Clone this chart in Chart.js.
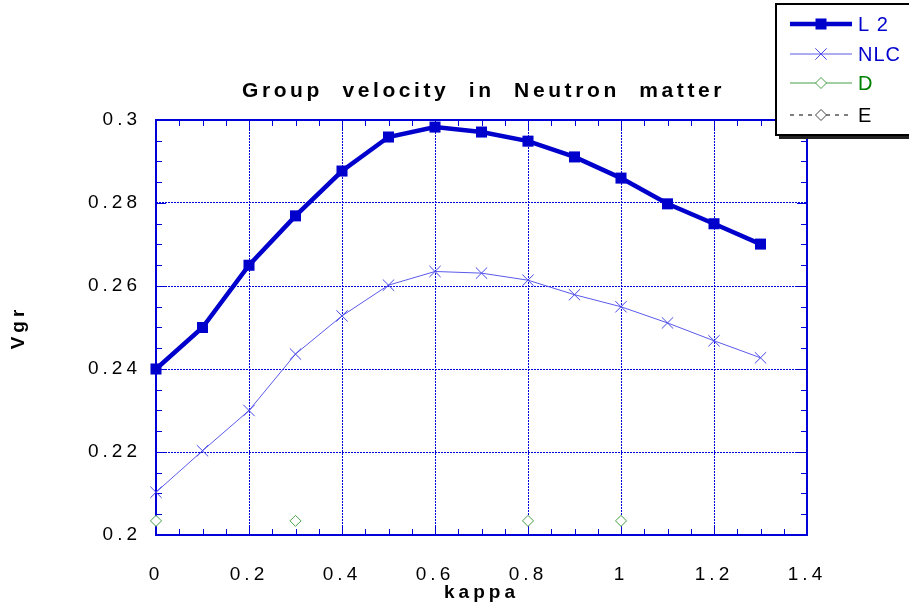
<!DOCTYPE html>
<html>
<head>
<meta charset="utf-8">
<script src="https://cdn.jsdelivr.net/npm/chart.js"></script>
<style>
  html, body { margin: 0; padding: 0; background: #fff; }
  canvas { display: block; }
</style>
</head>
<body>
<canvas id="myChart" width="909" height="607"></canvas>
<script>
// data
var kappa = [0, 0.1, 0.2, 0.3, 0.4, 0.5, 0.6, 0.7, 0.8, 0.9, 1.0, 1.1, 1.2, 1.3];
var vgrL2 = [0.2400, 0.2500, 0.2650, 0.2769, 0.2877, 0.2959, 0.2983, 0.2971, 0.2949, 0.2911, 0.2860, 0.2798, 0.2750, 0.2701];
var vgrNLC = [0.2103, 0.2203, 0.2300, 0.2436, 0.2528, 0.2602, 0.2635, 0.2631, 0.2614, 0.2579, 0.2550, 0.2511, 0.2468, 0.2427];
var kappaD = [0, 0.3, 0.8, 1.0];
var vgrD = [0.2034, 0.2034, 0.2034, 0.2034];
var kappaE = [];
var vgrE = [];

var xTicks = [0, 0.2, 0.4, 0.6, 0.8, 1, 1.2, 1.4];
var yTicks = [0.2, 0.22, 0.24, 0.26, 0.28, 0.3];
var xMinorStep = 0.05;
var yMinorStep = 0.005;

var titleText = 'Group velocity in Neutron matter';

function pts(xs, ys) {
    return xs.map(function (x, i) { return { x: x, y: ys[i] }; });
}

var blue = '#0000cc';
var gridBlue = '#0000d8';

function drawMarker(ctx, style, x, y, r, fill, stroke, lw) {
    ctx.save();
    ctx.setLineDash([]);
    ctx.lineWidth = lw;
    ctx.strokeStyle = stroke;
    ctx.fillStyle = fill;
    ctx.beginPath();
    if (style === 'rect') {
        var s = r * Math.SQRT1_2;
        ctx.rect(x - s, y - s, 2 * s, 2 * s);
        ctx.fill();
    } else if (style === 'crossRot') {
        var c = r * Math.SQRT1_2;
        ctx.moveTo(x - c, y - c); ctx.lineTo(x + c, y + c);
        ctx.moveTo(x - c, y + c); ctx.lineTo(x + c, y - c);
        ctx.stroke();
    } else if (style === 'rectRot') {
        ctx.moveTo(x, y - r); ctx.lineTo(x + r, y);
        ctx.lineTo(x, y + r); ctx.lineTo(x - r, y);
        ctx.closePath();
        ctx.fill();
        ctx.stroke();
    }
    ctx.restore();
}

// frame, minor ticks, title and the boxed legend
var decorations = {
    id: 'decorations',
    beforeDraw: function (chart) {
        chart.ctx.letterSpacing = '4px';
    },
    beforeDatasetsDraw: function (chart) {
        var ctx = chart.ctx;
        var a = chart.chartArea;
        var xs = chart.scales.x, ys = chart.scales.y;
        ctx.save();
        ctx.strokeStyle = gridBlue;
        ctx.lineWidth = 1;
        ctx.beginPath();
        var v, p;
        for (v = xs.min; v <= xs.max + 1e-9; v += xMinorStep) {
            p = Math.round(xs.getPixelForValue(v)) + 0.5;
            var major = Math.abs(v / 0.2 - Math.round(v / 0.2)) < 1e-6;
            var len = major ? 10 : 6;
            ctx.moveTo(p, a.bottom); ctx.lineTo(p, a.bottom - len);
            ctx.moveTo(p, a.top); ctx.lineTo(p, a.top + len);
        }
        for (v = ys.min; v <= ys.max + 1e-9; v += yMinorStep) {
            p = Math.round(ys.getPixelForValue(v)) + 0.5;
            var majorY = Math.abs(v / 0.02 - Math.round(v / 0.02)) < 1e-6;
            var lenY = majorY ? 10 : 6;
            ctx.moveTo(a.left, p); ctx.lineTo(a.left + lenY, p);
            ctx.moveTo(a.right, p); ctx.lineTo(a.right - lenY, p);
        }
        ctx.stroke();
        ctx.lineWidth = 2;
        ctx.strokeRect(a.left, a.top, a.right - a.left, a.bottom - a.top);
        ctx.restore();
    },
    afterDraw: function (chart) {
        var ctx = chart.ctx;
        var a = chart.chartArea;
        ctx.save();
        // title
        ctx.letterSpacing = '3.6px';
        ctx.wordSpacing = '10px';
        ctx.font = 'bold 21px "Liberation Sans", Arial, sans-serif';
        ctx.fillStyle = '#000';
        ctx.textAlign = 'center';
        ctx.textBaseline = 'middle';
        ctx.fillText(titleText, (a.left + a.right) / 2 + 2, 91);
        ctx.wordSpacing = '0px';

        // legend box with shadow
        var bx = 776, by = 4, bw = 140, bh = 131;
        ctx.fillStyle = '#222';
        ctx.fillRect(bx + 3, by + bh, bw, 4);
        ctx.fillStyle = '#fff';
        ctx.fillRect(bx, by, bw, bh);
        ctx.strokeStyle = '#000';
        ctx.lineWidth = 2;
        ctx.strokeRect(bx, by, bw, bh);

        var rows = [24, 54, 83, 115];
        var textColors = [blue, blue, '#008000', '#000'];
        ctx.letterSpacing = '1px';
        ctx.font = '20px "Liberation Sans", Arial, sans-serif';
        ctx.textAlign = 'left';
        chart.data.datasets.forEach(function (ds, i) {
            var y = rows[i];
            ctx.save();
            ctx.strokeStyle = ds.borderColor;
            ctx.lineWidth = ds.borderWidth;
            ctx.setLineDash(ds.borderDash || []);
            ctx.beginPath();
            ctx.moveTo(790, y); ctx.lineTo(852, y);
            ctx.stroke();
            ctx.restore();
            drawMarker(ctx, ds.pointStyle, 821, y, ds.pointRadius,
                ds.pointBackgroundColor, ds.pointBorderColor, ds.pointBorderWidth);
            ctx.fillStyle = textColors[i];
            ctx.fillText(i === 0 ? 'L 2' : ds.label, 858, y + 1);
        });
        ctx.restore();
        ctx.letterSpacing = '0px';
    }
};

var ctx = document.getElementById('myChart').getContext('2d');
var chart = new Chart(ctx, {
    type: 'line',
    data: {
        datasets: [
            {
                label: 'L2',
                data: pts(kappa, vgrL2),
                borderColor: blue,
                borderWidth: 4.5,
                pointStyle: 'rect',
                pointRadius: 7.8,
                pointBackgroundColor: blue,
                pointBorderColor: blue,
                pointBorderWidth: 0,
                clip: false
            },
            {
                label: 'NLC',
                data: pts(kappa, vgrNLC),
                borderColor: 'rgb(90, 90, 235)',
                borderWidth: 1,
                pointStyle: 'crossRot',
                pointRadius: 8,
                pointBackgroundColor: 'rgb(90, 90, 235)',
                pointBorderColor: 'rgb(70, 70, 230)',
                pointBorderWidth: 1,
                clip: false
            },
            {
                label: 'D',
                data: pts(kappaD, vgrD),
                showLine: false,
                borderColor: 'rgb(70, 160, 70)',
                borderWidth: 1,
                pointStyle: 'rectRot',
                pointRadius: 5.5,
                pointBackgroundColor: '#fff',
                pointBorderColor: 'rgb(70, 160, 70)',
                pointBorderWidth: 1,
                clip: false
            },
            {
                label: 'E',
                data: pts(kappaE, vgrE),
                borderColor: '#000',
                borderWidth: 1,
                borderDash: [4, 5],
                pointStyle: 'rectRot',
                pointRadius: 5.5,
                pointBackgroundColor: '#fff',
                pointBorderColor: '#444',
                pointBorderWidth: 1,
                clip: false
            }
        ]
    },
    options: {
        responsive: false,
        animation: false,
        layout: { padding: { top: 120, right: 102, left: 0, bottom: 0 } },
        plugins: {
            legend: { display: false },
            title: { display: false },
            tooltip: { enabled: false }
        },
        scales: {
            x: {
                type: 'linear',
                min: 0,
                max: 1.4,
                afterFit: function (s) { s.height = 72; },
                afterBuildTicks: function (s) { s.ticks = xTicks.map(function (v) { return { value: v }; }); },
                ticks: {
                    color: '#000',
                    padding: 28,
                    font: { family: '"Liberation Sans", Arial, sans-serif', size: 19 },
                    callback: function (v) { return String(Number(v.toFixed(2))); }
                },
                grid: { color: gridBlue, lineWidth: 1, drawTicks: false },
                border: { display: false, dash: [2, 1] },
                title: {
                    display: true,
                    text: 'kappa',
                    color: '#000',
                    padding: { top: 0, bottom: 3 },
                    font: { family: '"Liberation Sans", Arial, sans-serif', size: 19, weight: 'bold' }
                }
            },
            y: {
                type: 'linear',
                min: 0.2,
                max: 0.3,
                afterFit: function (s) { s.width = 156; },
                afterBuildTicks: function (s) { s.ticks = yTicks.map(function (v) { return { value: v }; }); },
                ticks: {
                    color: '#000',
                    padding: 15,
                    font: { family: '"Liberation Sans", Arial, sans-serif', size: 19 },
                    callback: function (v) { return String(Number(v.toFixed(3))); }
                },
                grid: { color: gridBlue, lineWidth: 1, drawTicks: false },
                border: { display: false, dash: [2, 1] },
                title: {
                    display: true,
                    text: 'Vgr',
                    color: '#000',
                    padding: { top: 7, bottom: 0 },
                    font: { family: '"Liberation Sans", Arial, sans-serif', size: 19, weight: 'bold' }
                }
            }
        }
    },
    plugins: [decorations]
});
</script>
</body>
</html>
